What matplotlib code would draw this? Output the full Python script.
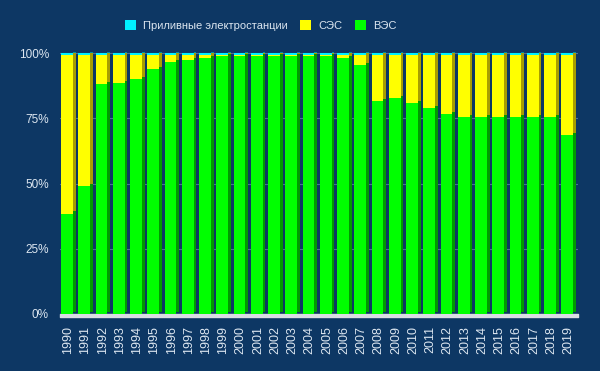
import matplotlib.pyplot as plt
import numpy as np

years = [str(y) for y in range(1990, 2020)]
wind = [38.5, 48.9, 88.3, 88.7, 90.2, 94.0, 96.7, 97.4, 98.2, 98.8,
        99.0, 99.0, 99.0, 99.0, 99.0, 99.0, 98.0, 95.4, 81.7, 82.7,
        80.9, 78.8, 76.8, 75.6, 75.6, 75.6, 75.6, 75.6, 75.6, 68.6]
tidal = [0.8] * 30
solar = [100 - w - t for w, t in zip(wind, tidal)]

series = [("ВЭС", wind, "#00ff00", "#009a00"),
          ("СЭС", solar, "#ffff00", "#a89e00"),
          ("Приливные электростанции", tidal, "#00f0ff", "#0090a0")]

bg = "#0d3764"
txt = "#dce6f0"

fig = plt.figure(figsize=(6, 3.71), dpi=100, facecolor=bg)
ax = fig.add_axes([0.1, 0.154, 0.863, 0.706], facecolor=bg)

x = np.arange(len(years))
# horizontal grid lines
for v in [25, 50, 75, 100]:
    ax.axhline(v, color="#4d6f96", lw=0.8, zorder=0)

# light floor under the bars
ax.fill_between([-0.45, 29.55], -1.2, 0, color="#d9dde3", zorder=1, clip_on=False)

bottom = np.zeros(len(years))
handles = []
for name, vals, col, dark in series:
    vals = np.array(vals)
    # side face (slightly raised to fake depth)
    ax.bar(x + 0.36, vals, width=0.16, bottom=bottom + 0.8, color=dark, zorder=2, linewidth=0)
    h = ax.bar(x - 0.06, vals, width=0.68, bottom=bottom, color=col, zorder=3, linewidth=0, label=name)
    handles.append(h)
    bottom += vals

ax.set_xlim(-0.47, 29.55)
ax.set_ylim(0, 100.5)
ax.set_xticks(x)
ax.set_xticklabels(years, rotation=90, color=txt, fontsize=9, family="Liberation Sans")
ax.set_yticks([0, 25, 50, 75, 100])
ax.set_yticklabels(["0%", "25%", "50%", "75%", "100%"], color=txt, fontsize=8.5, family="Liberation Sans")
ax.tick_params(length=0, pad=8)
ax.tick_params(axis="x", pad=9)
for s in ax.spines.values():
    s.set_visible(False)

leg = fig.legend(handles[::-1], [s[0] for s in series][::-1], loc="center", bbox_to_anchor=(0.435, 0.932),
                 ncol=3, frameon=False, handlelength=0.95, handleheight=1.1,
                 columnspacing=1.1, handletextpad=0.7, prop={"family": "Liberation Sans", "size": 8})
for t in leg.get_texts():
    t.set_color(txt)

fig.savefig("out.png", dpi=100, facecolor=bg)
